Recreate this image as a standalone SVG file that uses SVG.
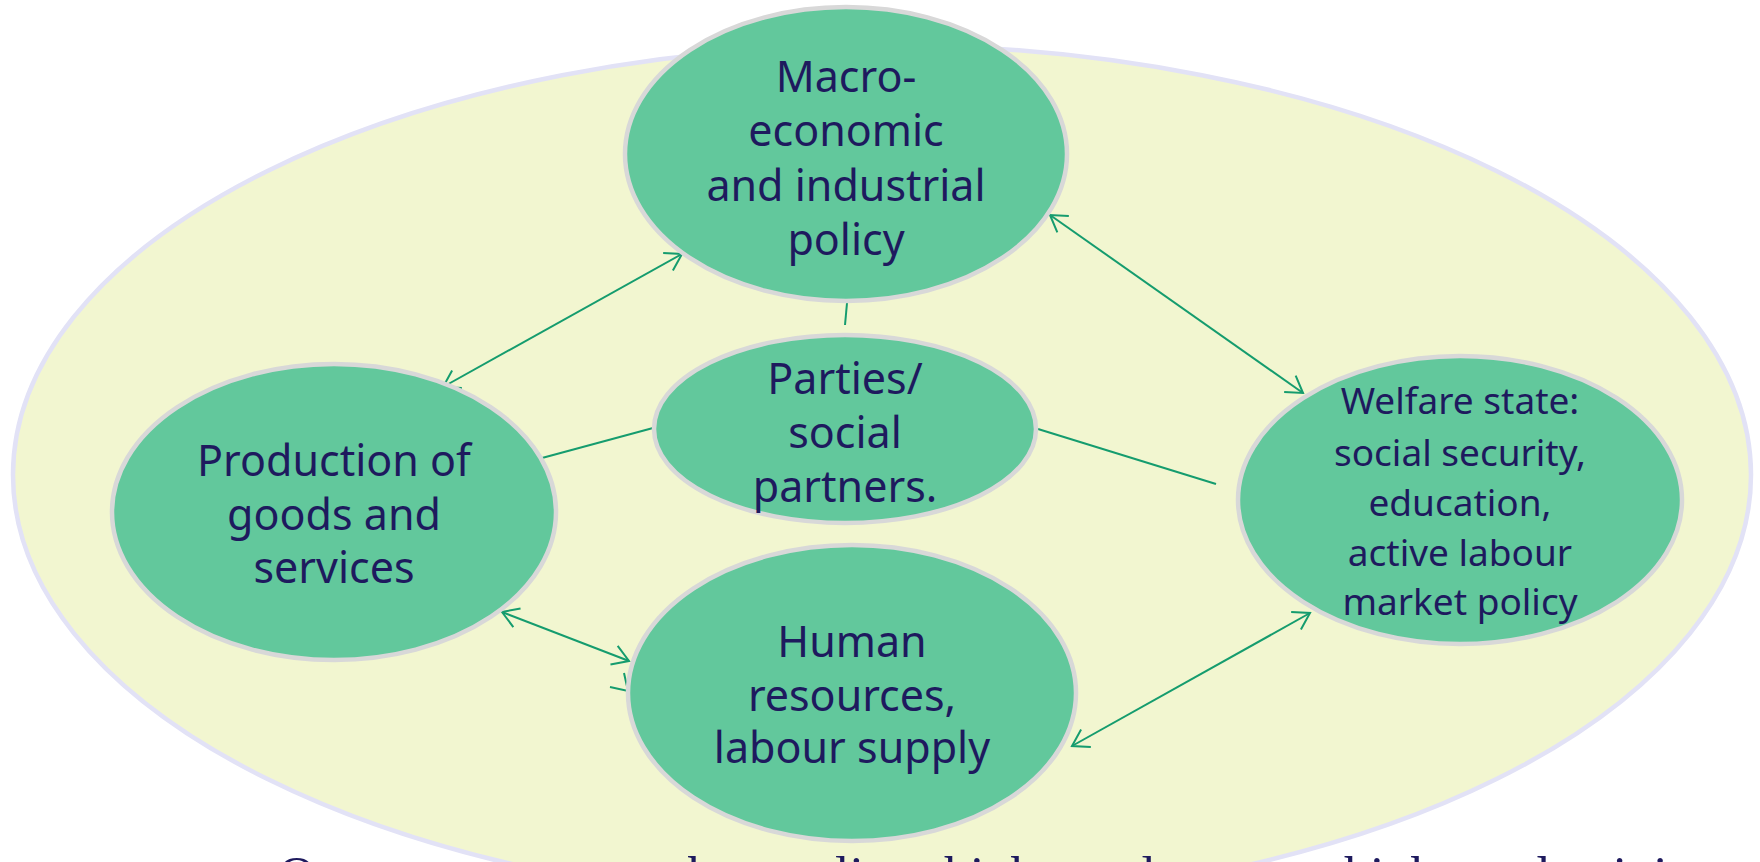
<svg xmlns="http://www.w3.org/2000/svg" width="1760" height="862" viewBox="0 0 1760 862">
<defs>
<style>
.node{fill:#62c89c;stroke:#d8d8d8;stroke-width:4.5}
.t{font-family:"Noto Sans","Open Sans",sans-serif;fill:#1e1a5e;text-anchor:middle}
.big{font-size:43px}
.small{font-size:37px}
.c{stroke:#159c6e;stroke-width:2;fill:none}
</style>
<marker id="ah" viewBox="-20 -12 22 24" markerWidth="22" markerHeight="24" refX="0" refY="0" markerUnits="userSpaceOnUse" orient="auto-start-reverse">
<path d="M-16,-10 L0,0 L-16,10" fill="none" stroke="#159c6e" stroke-width="2"/>
</marker>
</defs>
<rect width="1760" height="862" fill="#ffffff"/>
<ellipse id="outer" cx="882" cy="475" rx="869" ry="430" fill="#f2f6d0" stroke="#e2e2f6" stroke-width="4.5"/>
<g id="connectors">
<line class="c" x1="443" y1="387" x2="682" y2="254" marker-start="url(#ah)" marker-end="url(#ah)"/>
<line class="c" x1="1050" y1="215" x2="1303" y2="393" marker-start="url(#ah)" marker-end="url(#ah)"/>
<line class="c" x1="1310" y1="613" x2="1072" y2="746" marker-start="url(#ah)" marker-end="url(#ah)"/>
<line class="c" x1="502" y1="612" x2="629" y2="661" marker-start="url(#ah)" marker-end="url(#ah)"/>
<path class="c" d="M610,687 L628,691 L624,673"/>
<line class="c" x1="847" y1="303" x2="845" y2="325"/>
<line class="c" x1="542" y1="458" x2="653" y2="428"/>
<line class="c" x1="1038" y1="429" x2="1216" y2="484"/>
</g>
<g id="macro">
<ellipse class="node" cx="846" cy="154" rx="221" ry="147"/>
<text class="t big"><tspan x="846" y="92">Macro-</tspan><tspan x="846" y="146">economic</tspan><tspan x="846" y="201">and industrial</tspan><tspan x="846" y="255">policy</tspan></text>
</g>
<g id="parties">
<ellipse class="node" cx="845" cy="429" rx="191" ry="94"/>
<text class="t big"><tspan x="845" y="394">Parties/</tspan><tspan x="845" y="448">social</tspan><tspan x="845" y="502">partners.</tspan></text>
</g>
<g id="production">
<ellipse class="node" cx="334" cy="512" rx="222" ry="148"/>
<text class="t big"><tspan x="334" y="476">Production of</tspan><tspan x="334" y="530">goods and</tspan><tspan x="334" y="583">services</tspan></text>
</g>
<g id="human">
<ellipse class="node" cx="852" cy="693" rx="224" ry="148"/>
<text class="t big"><tspan x="852" y="657">Human</tspan><tspan x="852" y="711">resources,</tspan><tspan x="852" y="763">labour supply</tspan></text>
</g>
<g id="welfare">
<ellipse class="node" cx="1460" cy="500" rx="222" ry="144"/>
<text class="t small"><tspan x="1460" y="414">Welfare state:</tspan><tspan x="1460" y="466">social security,</tspan><tspan x="1460" y="516">education,</tspan><tspan x="1460" y="566">active labour</tspan><tspan x="1460" y="615">market policy</tspan></text>
</g>
<text font-family="Liberation Serif,serif" font-size="52" fill="#1e1a5e" y="893"><tspan x="278">Our</tspan><tspan x="368">economy</tspan><tspan x="580">must</tspan><tspan x="688">be</tspan><tspan x="760">quality,</tspan><tspan x="944">high</tspan><tspan x="1052">employment</tspan><tspan x="1344">high</tspan><tspan x="1454">productivity</tspan></text>
</svg>
